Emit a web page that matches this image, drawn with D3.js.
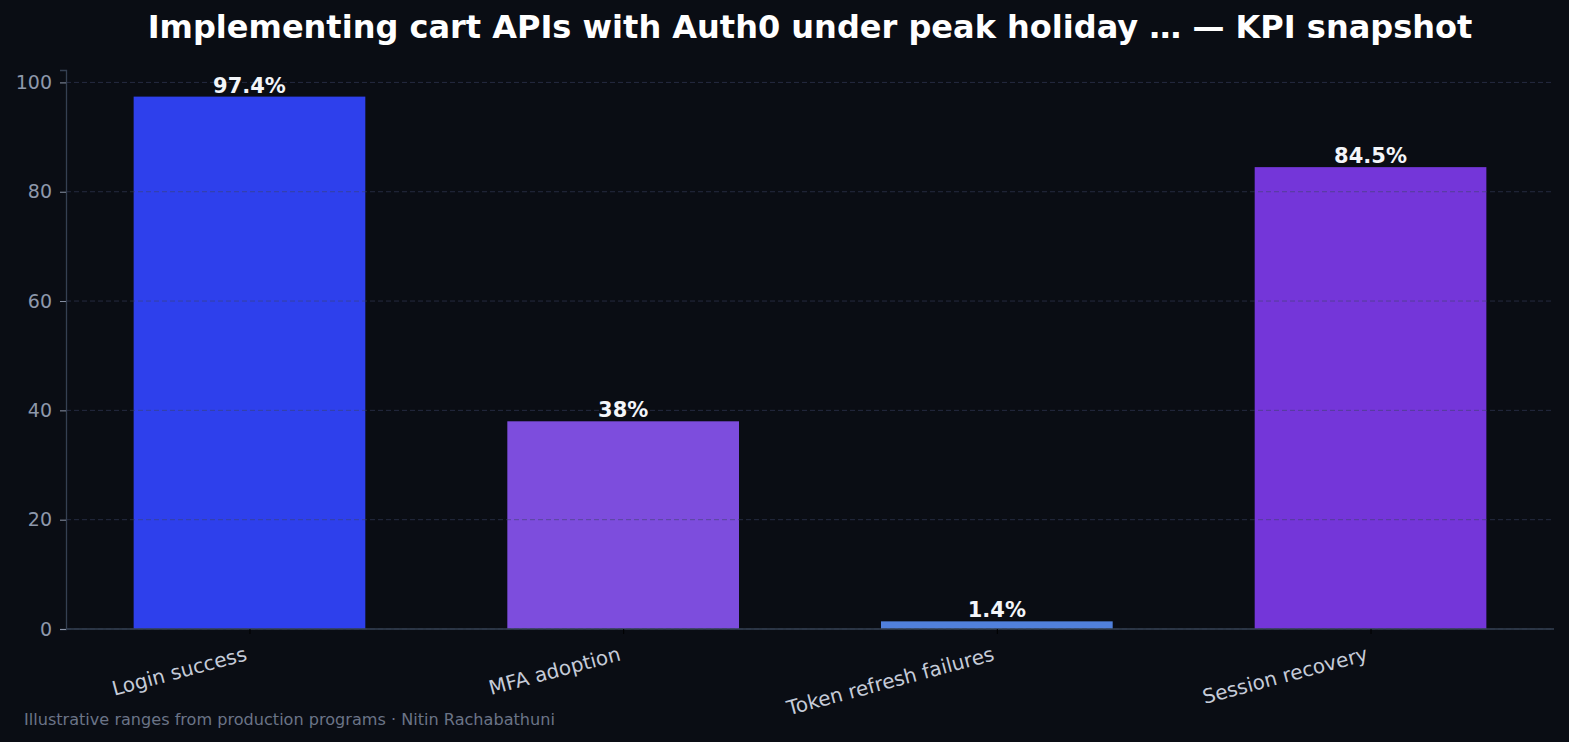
<!DOCTYPE html>
<html>
<head>
<meta charset="utf-8">
<script src="https://cdn.jsdelivr.net/npm/d3@7"></script>
<style>
  body { margin: 0; background: #0a0d14; }
  svg { display: block; font-family: "DejaVu Sans", sans-serif; }
</style>
</head>
<body>
<div id="chart"></div>
<script>
// KPI values
const categories = ["Login success", "MFA adoption", "Token refresh failures", "Session recovery"];
const values = [97.4, 38, 1.4, 84.5];
const valueLabels = ["97.4%", "38%", "1.4%", "84.5%"];
const barColors = ["#2e40ec", "#7d4ddd", "#5080dc", "#7436d9"];
const yTicks = [0, 20, 40, 60, 80, 100];

const width = 1569, height = 742;
const margin = { top: 70, right: 15, bottom: 113, left: 66 };

const svg = d3.select("#chart").append("svg")
    .attr("width", width)
    .attr("height", height);

svg.append("rect").attr("width", width).attr("height", height).attr("fill", "#0a0d14");

const x = d3.scaleLinear()
    .domain([-0.491, categories.length - 1 + 0.491])
    .range([margin.left, width - margin.right]);

const y = d3.scaleLinear()
    .domain([0, d3.max(values) * 1.05])
    .range([height - margin.bottom, margin.top]);

const barWidth = 0.62;

// bars
svg.append("g")
    .selectAll("rect")
    .data(values)
    .enter().append("rect")
    .attr("x", (d, i) => x(i - barWidth / 2))
    .attr("width", (d, i) => x(i + barWidth / 2) - x(i - barWidth / 2))
    .attr("y", d => y(d))
    .attr("height", d => y(0) - y(d))
    .attr("fill", (d, i) => barColors[i]);

// grid on top of bars, like the reference
svg.append("g")
    .selectAll("line")
    .data(yTicks)
    .enter().append("line")
    .attr("x1", margin.left)
    .attr("x2", width - margin.right)
    .attr("y1", d => y(d))
    .attr("y2", d => y(d))
    .attr("stroke", "#3a4464")
    .attr("stroke-opacity", 0.55)
    .attr("stroke-dasharray", "5,3")
    .attr("stroke-width", 1);

// value labels
svg.append("g")
    .selectAll("text")
    .data(values)
    .enter().append("text")
    .attr("x", (d, i) => x(i))
    .attr("y", d => y(d) - 4)
    .attr("text-anchor", "middle")
    .attr("fill", "#f3f5f9")
    .style("font-size", "21px")
    .style("font-weight", "bold")
    .text((d, i) => valueLabels[i]);

// y axis
const yAxis = svg.append("g")
    .attr("transform", `translate(${margin.left},0)`)
    .call(d3.axisLeft(y).tickValues(yTicks).tickSize(6).tickPadding(8).tickFormat(d3.format("d")));
yAxis.select(".domain").attr("stroke", "#354052").attr("stroke-width", 1.3);
yAxis.selectAll(".tick line").attr("stroke", "#8a93a6");
yAxis.selectAll(".tick text").attr("fill", "#8e98ab").style("font-size", "19px").style("font-family", "DejaVu Sans");

// x axis
const xAxis = svg.append("g")
    .attr("transform", `translate(0,${y(0)})`)
    .call(d3.axisBottom(x).tickValues(d3.range(categories.length)).tickSize(5)
        .tickFormat(i => categories[i]));
xAxis.select(".domain").attr("stroke", "#354052").attr("stroke-width", 1.5)
    .attr("d", `M${margin.left},0H${width - margin.right}`);
xAxis.selectAll(".tick line").attr("stroke", "#000000");
xAxis.selectAll(".tick text")
    .attr("fill", "#c5cbd8")
    .style("font-size", "20px")
    .style("font-family", "DejaVu Sans")
    .attr("text-anchor", "end")
    .attr("x", 0)
    .attr("y", 0)
    .attr("dy", 0)
    .attr("transform", "translate(-2,31) rotate(-15)");

// title
svg.append("text")
    .attr("x", (margin.left + width - margin.right) / 2)
    .attr("y", 38)
    .attr("text-anchor", "middle")
    .attr("fill", "#ffffff")
    .style("font-size", "32px")
    .style("font-weight", "bold")
    .text("Implementing cart APIs with Auth0 under peak holiday … — KPI snapshot");

// footer
svg.append("text")
    .attr("x", 24)
    .attr("y", 725)
    .attr("fill", "#6b7487")
    .style("font-size", "16.1px")
    .text("Illustrative ranges from production programs · Nitin Rachabathuni");
</script>
</body>
</html>
